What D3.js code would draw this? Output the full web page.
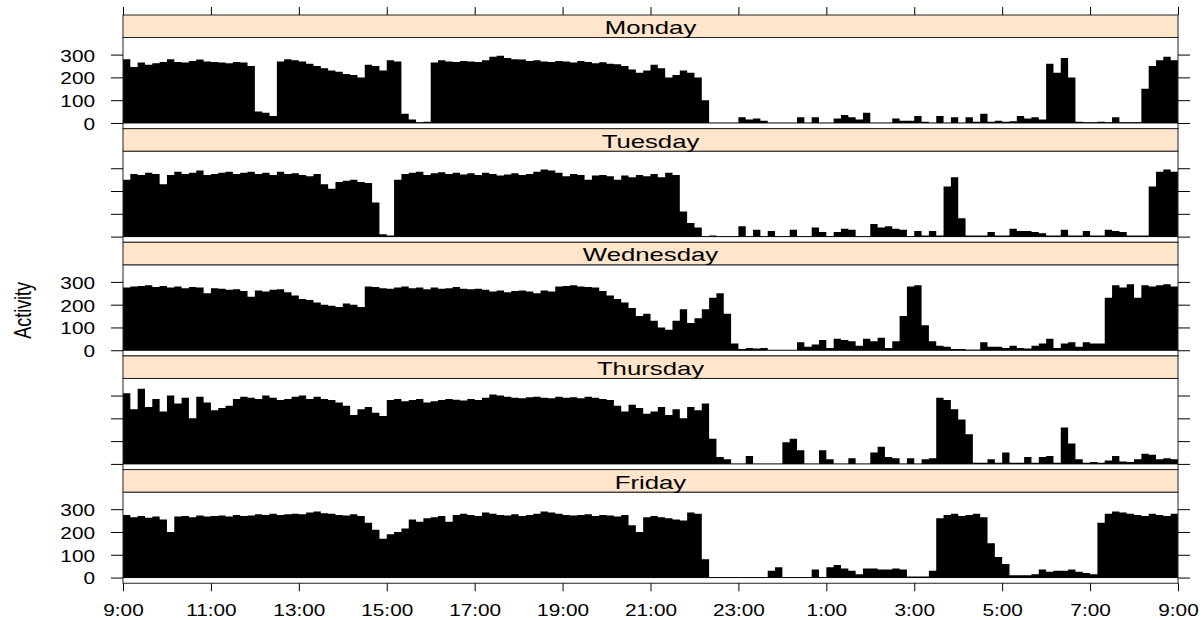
<!DOCTYPE html>
<html>
<head>
<meta charset="utf-8">
<script src="https://cdn.jsdelivr.net/npm/d3@7"></script>
<style>
    body { margin: 0; background: #fff; }
    text { font-family: "Liberation Sans", Arial, sans-serif; fill: #000; }
</style>
</head>
<body>
<div id="chart"></div>
<script>
// activity per 10 minute bin, starting at 9:00 (144 bins = 24h)
var days = ["Monday", "Tuesday", "Wednesday", "Thursday", "Friday"];

var monday = [
    280, 245, 265, 255, 262, 268, 280, 268, 265, 272, 278, 270, 268, 265, 262, 268, 265, 250,
    50, 45, 30, 270, 280, 275, 270, 260, 250, 240, 230, 225, 215, 210, 200, 255, 250, 230,
    275, 270, 40, 15, 3, 5, 265, 275, 270, 268, 272, 270, 268, 275, 290, 295, 285, 280,
    278, 272, 275, 270, 268, 272, 270, 265, 272, 268, 262, 266, 260, 258, 250, 235, 220, 230,
    255, 240, 200, 210, 230, 220, 200, 100, 0, 0, 0, 0, 25, 15, 20, 10, 0, 0,
    0, 0, 25, 0, 25, 0, 0, 20, 35, 25, 15, 45, 0, 0, 0, 20, 10, 10,
    30, 5, 0, 30, 0, 25, 0, 25, 5, 40, 5, 10, 5, 8, 30, 20, 25, 15,
    260, 220, 285, 200, 5, 3, 3, 5, 3, 25, 3, 3, 3, 150, 250, 275, 290, 275
];

var tuesday = [
    250, 275, 270, 280, 275, 230, 270, 285, 275, 280, 290, 270, 275, 280, 285, 275, 280, 285,
    275, 280, 270, 285, 275, 278, 270, 265, 275, 230, 210, 240, 245, 250, 240, 235, 150, 10,
    5, 250, 275, 280, 285, 270, 278, 282, 275, 280, 272, 278, 270, 280, 275, 268, 272, 278,
    270, 275, 285, 295, 290, 280, 265, 275, 270, 250, 268, 270, 265, 250, 268, 260, 270, 265,
    275, 260, 280, 270, 110, 60, 40, 0, 5, 0, 0, 0, 45, 0, 30, 0, 25, 0,
    0, 30, 0, 0, 40, 20, 0, 20, 35, 30, 0, 0, 55, 40, 45, 35, 30, 0,
    25, 5, 25, 5, 220, 260, 80, 5, 5, 5, 20, 5, 5, 35, 25, 25, 20, 15,
    5, 5, 30, 5, 5, 25, 5, 5, 30, 25, 20, 5, 5, 5, 220, 285, 295, 285
];

var wednesday = [
    275, 280, 282, 285, 278, 282, 275, 280, 272, 278, 275, 250, 272, 270, 265, 268, 260, 235,
    262, 258, 265, 268, 255, 240, 225, 220, 210, 200, 195, 190, 205, 200, 190, 280, 278, 272,
    270, 275, 280, 272, 275, 268, 275, 270, 272, 278, 270, 268, 270, 265, 258, 262, 255, 260,
    262, 258, 250, 262, 258, 280, 282, 285, 280, 278, 275, 260, 240, 225, 210, 185, 150, 160,
    130, 100, 90, 130, 180, 120, 140, 180, 230, 250, 160, 30, 5, 10, 8, 10, 0, 0,
    0, 0, 35, 15, 25, 45, 10, 50, 45, 40, 20, 50, 40, 55, 10, 40, 150, 280,
    285, 110, 40, 20, 15, 5, 5, 2, 2, 35, 15, 15, 10, 20, 10, 8, 20, 30,
    50, 10, 30, 35, 15, 35, 30, 30, 230, 285, 275, 290, 230, 285, 280, 285, 290, 280
];

var thursday = [
    310, 240, 330, 250, 285, 230, 300, 265, 290, 200, 295, 270, 235, 245, 255, 285, 295, 290,
    285, 300, 290, 280, 285, 295, 300, 285, 295, 285, 280, 270, 255, 215, 240, 250, 225, 210,
    280, 285, 275, 280, 285, 270, 275, 280, 285, 282, 278, 285, 280, 290, 305, 300, 295, 290,
    288, 292, 295, 290, 288, 295, 290, 292, 288, 295, 290, 285, 280, 255, 230, 260, 245, 220,
    230, 250, 215, 240, 200, 250, 235, 265, 110, 30, 20, 0, 0, 35, 0, 0, 0, 0,
    95, 110, 60, 0, 0, 60, 20, 0, 0, 25, 0, 0, 50, 75, 30, 25, 0, 25,
    0, 20, 25, 290, 280, 240, 195, 130, 5, 5, 20, 5, 50, 5, 5, 30, 5, 30,
    35, 5, 160, 90, 20, 5, 8, 5, 15, 35, 10, 8, 20, 45, 40, 20, 25, 20
];

var friday = [
    275, 265, 270, 262, 268, 255, 200, 268, 270, 265, 272, 268, 270, 272, 268, 275, 270, 272,
    278, 275, 280, 275, 278, 280, 278, 285, 290, 282, 280, 275, 272, 278, 270, 240, 210, 170,
    190, 200, 215, 255, 245, 260, 265, 270, 245, 275, 280, 275, 270, 285, 280, 275, 272, 278,
    270, 275, 280, 290, 285, 280, 275, 272, 275, 278, 270, 275, 272, 268, 275, 230, 200, 265,
    270, 265, 260, 255, 250, 285, 280, 80, 0, 0, 0, 0, 0, 0, 0, 0, 30, 45,
    0, 0, 0, 0, 35, 0, 45, 55, 40, 30, 15, 40, 40, 35, 35, 40, 35, 5,
    5, 5, 30, 260, 275, 280, 270, 275, 280, 265, 150, 90, 60, 10, 10, 10, 15, 35,
    25, 30, 30, 35, 25, 20, 15, 240, 280, 290, 285, 280, 275, 270, 280, 275, 270, 280
];

var series = [monday, tuesday, wednesday, thursday, friday];
var timeLabels = ["9:00", "11:00", "13:00", "15:00", "17:00", "19:00", "21:00",
    "23:00", "1:00", "3:00", "5:00", "7:00", "9:00"];
var yTicks = [0, 100, 200, 300];

// Dimensions
var width = 1203, height = 620;
var left = 123, right = 1178;
var top0 = 15, stripH = 22.5, pitch = 113.65;
var binMin = 10;

var svg = d3.select("#chart").append("svg")
    .attr("width", width)
    .attr("height", height);

var x = d3.scaleLinear().domain([0, 1440]).range([left, right]);
var tickMins = timeLabels.map(function(d, i) { return i * 120; });

function squash(sel, sx) {
    sel.attr("transform", "scale(" + sx + ",1)");
}

days.forEach(function(day, i) {
    var top = top0 + i * pitch;
    var y = d3.scaleLinear().domain([-25, 375]).range([top + pitch, top + stripH]);
    var g = svg.append("g");
    var vals = series[i];

    // bars, drawn as a step area
    var area = d3.area()
        .x(function(d, j) { return x(j * binMin); })
        .y0(y(0))
        .y1(function(d) { return y(d); })
        .curve(d3.curveStepAfter);

    g.append("path")
        .datum(vals.concat([vals[vals.length - 1]]))
        .attr("d", area)
        .attr("fill", "#000");

    g.append("line")
        .attr("x1", left).attr("x2", right)
        .attr("y1", y(0)).attr("y2", y(0))
        .attr("stroke", "#000");

    // panel border
    g.append("rect")
        .attr("x", left).attr("y", top + stripH)
        .attr("width", right - left).attr("height", pitch - stripH)
        .attr("fill", "none")
        .attr("stroke", "#222");

    // strip
    g.append("rect")
        .attr("x", left).attr("y", top)
        .attr("width", right - left).attr("height", stripH)
        .attr("fill", "#ffe5cc")
        .attr("stroke", "#222");

    g.append("text")
        .attr("transform", "translate(" + ((left + right) / 2) + "," + (top + 19) + ") scale(1.43,1)")
        .attr("text-anchor", "middle")
        .style("font-size", "18px")
        .text(day);

    // y axes, labels alternate on the left
    var yl = g.append("g")
        .attr("transform", "translate(" + left + ",0)")
        .call(d3.axisLeft(y).tickValues(yTicks).tickSize(12)
            .tickFormat(i % 2 === 0 ? d3.format("d") : ""));
    yl.select(".domain").remove();
    yl.selectAll("line").attr("stroke", "#000");
    yl.selectAll("text")
        .attr("x", -28 / 1.3)
        .attr("dy", "0.4em")
        .style("font-size", "16px")
        .call(squash, 1.3);

    var yr = g.append("g")
        .attr("transform", "translate(" + right + ",0)")
        .call(d3.axisRight(y).tickValues(yTicks).tickSize(12).tickFormat(""));
    yr.select(".domain").remove();
    yr.selectAll("line").attr("stroke", "#000");

    if (i === 0) {
        var xt = g.append("g")
            .attr("transform", "translate(0," + top + ")")
            .call(d3.axisTop(x).tickValues(tickMins).tickSize(8).tickFormat(""));
        xt.select(".domain").remove();
        xt.selectAll("line").attr("stroke", "#000");
    }

    if (i === days.length - 1) {
        var xb = g.append("g")
            .attr("transform", "translate(0," + (top + pitch) + ")")
            .call(d3.axisBottom(x).tickValues(tickMins).tickSize(8)
                .tickFormat(function(d, k) { return timeLabels[k]; }));
        xb.select(".domain").remove();
        xb.selectAll("line").attr("stroke", "#000");
        xb.selectAll("text")
            .attr("y", 33)
            .attr("dy", "0")
            .style("font-size", "16px")
            .call(squash, 1.3);
    }
});

svg.append("text")
    .attr("transform", "translate(31," + (top0 + stripH + (4 * pitch + pitch - stripH) / 2) + ") scale(1.3,1) rotate(-90)")
    .attr("text-anchor", "middle")
    .style("font-size", "18px")
    .text("Activity");
</script>
</body>
</html>
